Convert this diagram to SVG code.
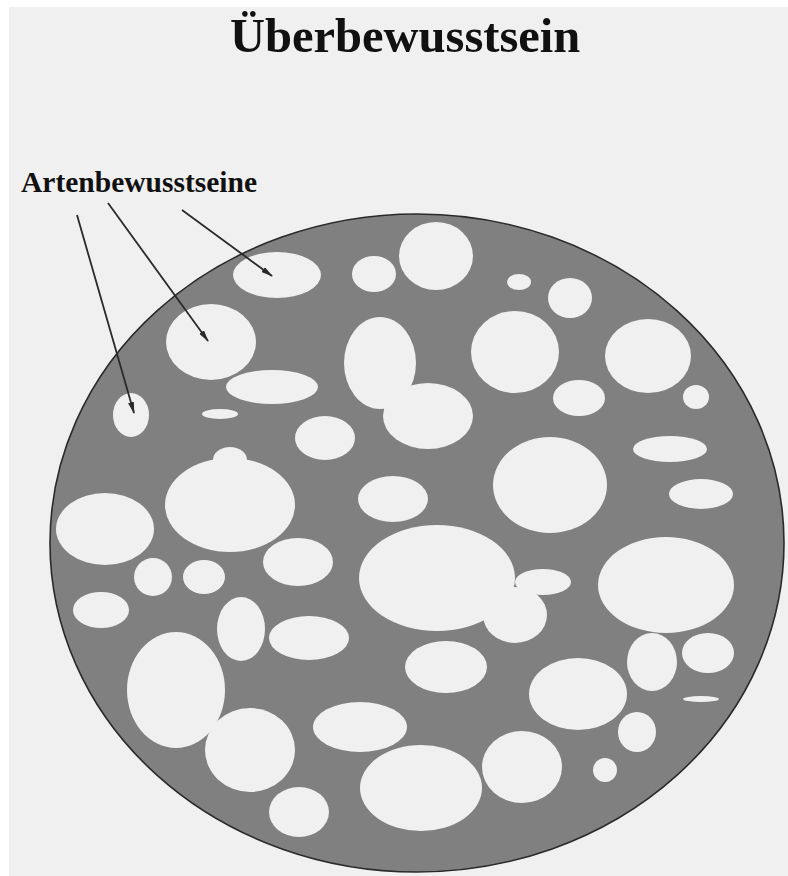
<svg xmlns="http://www.w3.org/2000/svg" width="788" height="876" viewBox="0 0 788 876">
<defs>
<style>
.bg{fill:#f0f0f0}
.big{fill:#808080;stroke:#2a2a2a;stroke-width:1.6}
.hole{fill:#f0f0f0}
.t{font-family:"Liberation Serif","Times New Roman",serif;font-weight:bold;fill:#111}
.arr{stroke:#2a2a2a;stroke-width:1.8;fill:none;marker-end:url(#ah)}
</style>
<marker id="ah" viewBox="0 0 12 6" refX="11" refY="3" markerWidth="12" markerHeight="6" markerUnits="userSpaceOnUse" orient="auto">
<path d="M0,0 L12,3 L0,6 Z" fill="#2a2a2a"/>
</marker>
</defs>
<rect width="788" height="876" fill="#ffffff"/>
<rect x="9" y="7" width="779" height="869" class="bg"/>
<text class="t" x="230" y="52" font-size="48.5">Überbewusstsein</text>
<g id="universe">
<ellipse class="big" cx="417" cy="543" rx="367" ry="329"/>
</g>
<g id="holes">
<ellipse class="hole" cx="277" cy="275" rx="44" ry="23"/>
<ellipse class="hole" cx="211" cy="342" rx="45" ry="38"/>
<ellipse class="hole" cx="272" cy="387" rx="46" ry="17"/>
<ellipse class="hole" cx="131" cy="415" rx="18" ry="22"/>
<ellipse class="hole" cx="220" cy="414" rx="18" ry="5"/>
<ellipse class="hole" cx="374" cy="274" rx="22" ry="18"/>
<ellipse class="hole" cx="436" cy="256" rx="37" ry="34"/>
<ellipse class="hole" cx="519" cy="282" rx="12" ry="8"/>
<ellipse class="hole" cx="570" cy="298" rx="22" ry="20"/>
<ellipse class="hole" cx="515" cy="352" rx="44" ry="41"/>
<ellipse class="hole" cx="648" cy="356" rx="43" ry="37"/>
<ellipse class="hole" cx="579" cy="398" rx="26" ry="18"/>
<ellipse class="hole" cx="696" cy="397" rx="13" ry="12"/>
<ellipse class="hole" cx="380" cy="363" rx="36" ry="46"/>
<ellipse class="hole" cx="428" cy="416" rx="45" ry="33"/>
<ellipse class="hole" cx="325" cy="438" rx="30" ry="22"/>
<ellipse class="hole" cx="230" cy="505" rx="65" ry="47"/>
<ellipse class="hole" cx="230" cy="460" rx="17" ry="13"/>
<ellipse class="hole" cx="105" cy="529" rx="49" ry="36"/>
<ellipse class="hole" cx="153" cy="577" rx="19" ry="19"/>
<ellipse class="hole" cx="204" cy="577" rx="21" ry="17"/>
<ellipse class="hole" cx="298" cy="562" rx="35" ry="24"/>
<ellipse class="hole" cx="393" cy="499" rx="35" ry="23"/>
<ellipse class="hole" cx="101" cy="610" rx="28" ry="18"/>
<ellipse class="hole" cx="241" cy="629" rx="24" ry="32"/>
<ellipse class="hole" cx="309" cy="638" rx="40" ry="22"/>
<ellipse class="hole" cx="550" cy="485" rx="57" ry="48"/>
<ellipse class="hole" cx="670" cy="449" rx="37" ry="13"/>
<ellipse class="hole" cx="701" cy="494" rx="32" ry="15"/>
<ellipse class="hole" cx="437" cy="578" rx="78" ry="53"/>
<ellipse class="hole" cx="543" cy="582" rx="28" ry="13"/>
<ellipse class="hole" cx="515" cy="615" rx="32" ry="28"/>
<ellipse class="hole" cx="666" cy="585" rx="68" ry="48"/>
<ellipse class="hole" cx="176" cy="690" rx="49" ry="58"/>
<ellipse class="hole" cx="250" cy="750" rx="45" ry="42"/>
<ellipse class="hole" cx="299" cy="812" rx="30" ry="25"/>
<ellipse class="hole" cx="360" cy="727" rx="47" ry="25"/>
<ellipse class="hole" cx="421" cy="788" rx="61" ry="43"/>
<ellipse class="hole" cx="446" cy="667" rx="41" ry="26"/>
<ellipse class="hole" cx="578" cy="694" rx="49" ry="36"/>
<ellipse class="hole" cx="652" cy="662" rx="25" ry="29"/>
<ellipse class="hole" cx="708" cy="653" rx="26" ry="20"/>
<ellipse class="hole" cx="701" cy="699" rx="18" ry="3"/>
<ellipse class="hole" cx="637" cy="732" rx="19" ry="20"/>
<ellipse class="hole" cx="605" cy="770" rx="12" ry="12"/>
<ellipse class="hole" cx="522" cy="767" rx="40" ry="36"/>
</g>
<text class="t" x="21" y="192" font-size="29.5">Artenbewusstseine</text>
<g id="connectors">
<line class="arr" x1="77" y1="215" x2="134" y2="413"/>
<line class="arr" x1="108" y1="203" x2="208" y2="341"/>
<line class="arr" x1="182" y1="210" x2="272" y2="276"/>
</g>
</svg>
